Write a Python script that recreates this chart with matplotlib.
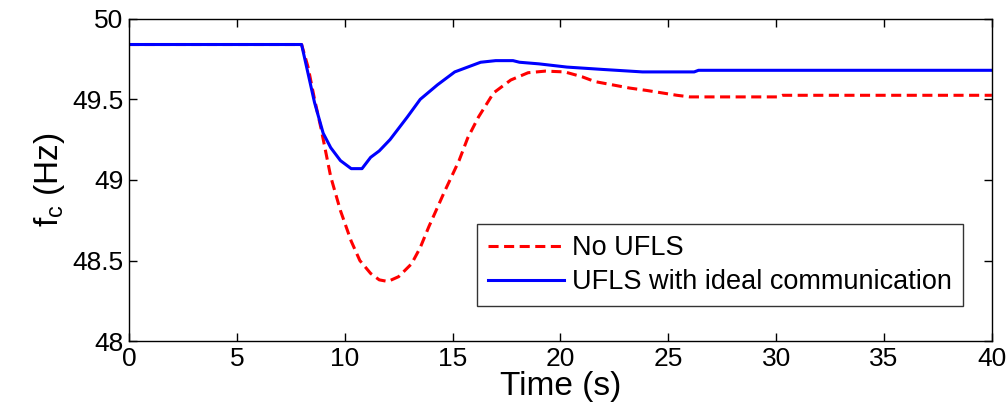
import numpy as np
import matplotlib
matplotlib.use("Agg")
import matplotlib.pyplot as plt

plt.rcParams["font.family"] = ["Liberation Sans", "DejaVu Sans"]
plt.rcParams["mathtext.default"] = "regular"

# frequency traces (s, Hz)
t_no_ufls = [0, 8.0, 8.3, 8.6, 8.9, 9.35, 9.8, 10.3, 10.7, 11.2, 11.6, 12.0, 12.5,
             13.1, 13.5, 13.9, 14.6, 15.3, 15.7, 16.2, 16.9, 17.7, 18.5, 19.3,
             20.2, 21.0, 21.6, 22.4, 23.2, 24.0, 24.7, 25.4, 26.0, 30.1, 30.3, 40]
f_no_ufls = [49.84, 49.84, 49.70, 49.50, 49.32, 49.02, 48.81, 48.62, 48.50, 48.42,
             48.38, 48.37, 48.40, 48.48, 48.58, 48.71, 48.92, 49.12, 49.26, 49.39,
             49.54, 49.62, 49.665, 49.675, 49.67, 49.64, 49.61, 49.59, 49.57, 49.555,
             49.54, 49.525, 49.515, 49.515, 49.525, 49.525]

t_ufls = [0, 8.0, 8.3, 8.6, 9.0, 9.35, 9.8, 10.3, 10.8, 11.2, 11.6, 12.1, 12.9,
          13.5, 14.3, 15.1, 15.7, 16.3, 17.0, 17.8, 18.1, 19.0, 20.3, 22.0, 23.8,
          26.2, 26.4, 40]
f_ufls = [49.84, 49.84, 49.66, 49.48, 49.29, 49.20, 49.12, 49.07, 49.07, 49.14,
          49.18, 49.25, 49.39, 49.50, 49.59, 49.67, 49.70, 49.73, 49.74, 49.74,
          49.73, 49.72, 49.70, 49.685, 49.67, 49.67, 49.68, 49.68]

fig, ax = plt.subplots(figsize=(10.08, 4.16), dpi=100)
fig.subplots_adjust(left=0.128, right=0.984, top=0.955, bottom=0.18)

ax.plot(t_no_ufls, f_no_ufls, color="#ff0000", ls="--", lw=2.2, dashes=(3.3, 1.8),
        label="No UFLS")
ax.plot(t_ufls, f_ufls, color="#0000ff", lw=2.2,
        label="UFLS with ideal communication")

ax.set_xlim(0, 40)
ax.set_ylim(48, 50)
ax.set_xticks(np.arange(0, 41, 5))
ax.set_yticks([48, 48.5, 49, 49.5, 50])
ax.set_yticklabels(["48", "48.5", "49", "49.5", "50"])
ax.tick_params(direction="in", top=True, right=True, length=6, width=1,
               labelsize=19, pad=4)
for s in ax.spines.values():
    s.set_linewidth(1)

ax.set_xlabel("Time (s)", fontsize=24, labelpad=0)
ax.set_ylabel("$f_c$ (Hz)", fontsize=24, labelpad=4)

leg = ax.legend(loc="lower right", bbox_to_anchor=(0.966, 0.109), fontsize=19.5,
                frameon=True, fancybox=False, edgecolor="black",
                handlelength=2.8, handletextpad=0.3, borderpad=0.4,
                labelspacing=0.3, borderaxespad=0)
leg.get_frame().set_linewidth(1)

fig.savefig("out.png", dpi=100)
